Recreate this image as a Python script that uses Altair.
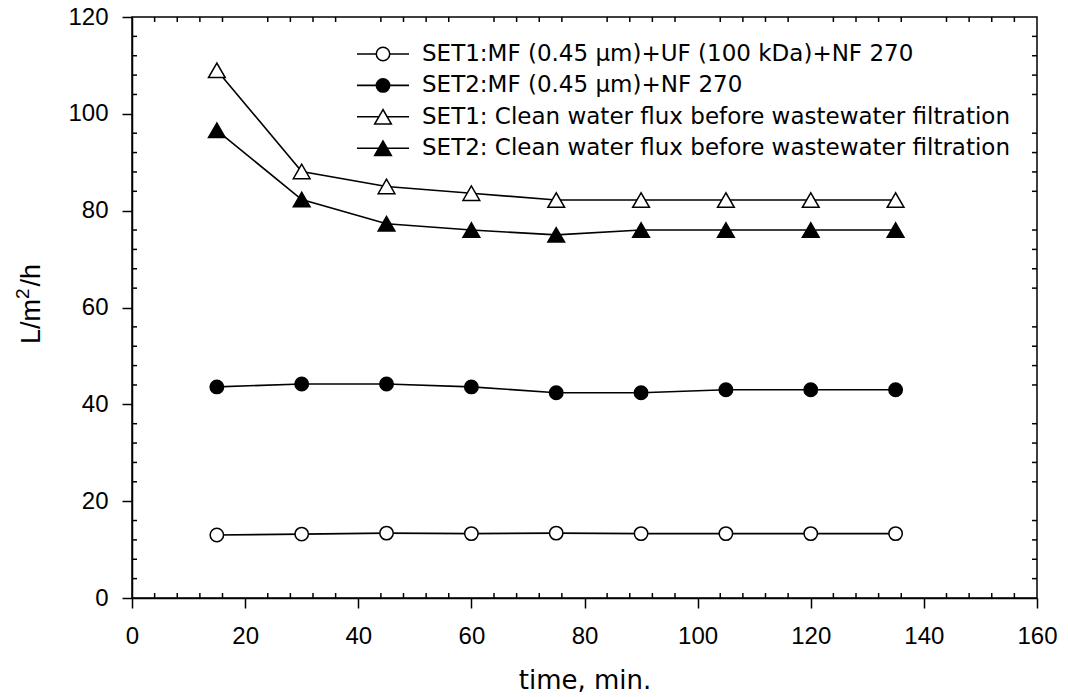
import altair as alt
import pandas as pd

# ---- data ----
times = [15, 30, 45, 60, 75, 90, 105, 120, 135]
set1_mf_uf_nf = [13.0, 13.2, 13.4, 13.3, 13.4, 13.3, 13.3, 13.3, 13.3]
set2_mf_nf = [43.6, 44.2, 44.2, 43.6, 42.4, 42.4, 43.0, 43.0, 43.0]
set1_clean = [109.0, 88.1, 85.0, 83.6, 82.2, 82.2, 82.2, 82.2, 82.2]
set2_clean = [96.6, 82.3, 77.3, 76.0, 75.0, 76.0, 76.0, 76.0, 76.0]

series_labels = [
    "SET1:MF (0.45 µm)+UF (100 kDa)+NF 270",
    "SET2:MF (0.45 µm)+NF 270",
    "SET1: Clean water flux before wastewater filtration",
    "SET2: Clean water flux before wastewater filtration",
]
series_values = [set1_mf_uf_nf, set2_mf_nf, set1_clean, set2_clean]
series_shapes = ["circle", "circle", "triangle-up", "triangle-up"]
series_fills = ["white", "black", "white", "black"]
series_sizes = [180, 180, 280, 280]

x_major = [0, 20, 40, 60, 80, 100, 120, 140, 160]
y_major = [0, 20, 40, 60, 80, 100, 120]
x_minor = [v for v in range(0, 161, 4) if v % 20]
y_minor = [v for v in range(0, 121, 4) if v % 20]

# y-axis title pieces: text, font size, raise (px)
ytitle_parts = [("L/m", 27, 0), ("2", 19, 11), ("/h", 27, 0)]

W, H = 905, 581

rows = []
for lab, vals, sz in zip(series_labels, series_values, series_sizes):
    for t, v in zip(times, vals):
        rows.append({"time": t, "value": v, "series": lab, "msize": sz})
df = pd.DataFrame(rows)

xs = alt.Scale(domain=[0, 160], nice=False, zero=False)
ys = alt.Scale(domain=[0, 120], nice=False, zero=False)

xaxis = alt.Axis(values=x_major, tickSize=10, tickWidth=1.5, tickColor="black",
                 domainColor="black", domainWidth=1.5, grid=False, format="d",
                 labelFont="Liberation Sans", labelFontSize=24, labelColor="black",
                 labelPadding=16, labelFlush=False,
                 title="time, min.", titleFont="DejaVu Sans", titleFontSize=26,
                 titleFontWeight="normal", titleColor="black",
                 titleY=90, titleBaseline="alphabetic")
yaxis = alt.Axis(values=y_major, tickSize=10, tickWidth=1.5, tickColor="black",
                 domainColor="black", domainWidth=1.5, grid=False, format="d",
                 labelFont="Liberation Sans", labelFontSize=24, labelColor="black",
                 labelPadding=14, labelFlush=False, title="")

base = alt.Chart(df)
lines = base.mark_line(color="black", strokeWidth=1.6).encode(
    x=alt.X("time:Q", scale=xs, axis=xaxis),
    y=alt.Y("value:Q", scale=ys, axis=yaxis),
    detail="series:N",
    order="time:Q",
)
points = base.mark_point(filled=True, stroke="black", strokeWidth=1.5, opacity=1).encode(
    x=alt.X("time:Q", scale=xs),
    y=alt.Y("value:Q", scale=ys),
    shape=alt.Shape("series:N", scale=alt.Scale(domain=series_labels, range=series_shapes), legend=None),
    fill=alt.Fill("series:N", scale=alt.Scale(domain=series_labels, range=series_fills), legend=None),
    size=alt.Size("msize:Q", scale=None),
)

# minor ticks (inward)
xm = pd.DataFrame({"time": x_minor})
ym = pd.DataFrame({"value": y_minor})
rule_kw = dict(color="black", strokeWidth=1.5)
bottom_minor = alt.Chart(xm).mark_rule(**rule_kw).encode(
    x=alt.X("time:Q", scale=xs), y=alt.value(H), y2=alt.value(H - 5))
top_minor = alt.Chart(xm).mark_rule(**rule_kw).encode(
    x=alt.X("time:Q", scale=xs), y=alt.value(0), y2=alt.value(5))
left_minor = alt.Chart(ym).mark_rule(**rule_kw).encode(
    y=alt.Y("value:Q", scale=ys), x=alt.value(0), x2=alt.value(5))
right_minor = alt.Chart(ym).mark_rule(**rule_kw).encode(
    y=alt.Y("value:Q", scale=ys), x=alt.value(W), x2=alt.value(W - 5))

# legend (drawn inside the plot)
legend_layers = []
leg_y0, leg_dy = 37, 31.4
for i, (lab, shp, fil, sz) in enumerate(zip(series_labels, series_shapes, series_fills, series_sizes)):
    ld = pd.DataFrame({"label": [lab]})
    yy = leg_y0 + leg_dy * i
    legend_layers.append(alt.Chart(ld).mark_rule(color="black", strokeWidth=1.6).encode(
        x=alt.value(225), x2=alt.value(277), y=alt.value(yy)))
    legend_layers.append(alt.Chart(ld).mark_point(
        shape=shp, filled=True, fill=fil, stroke="black", strokeWidth=1.5, size=sz, opacity=1
    ).encode(x=alt.value(251), y=alt.value(yy)))
    legend_layers.append(alt.Chart(ld).mark_text(
        align="left", baseline="middle", font="DejaVu Sans", fontSize=23, color="black"
    ).encode(x=alt.value(290), y=alt.value(yy), text="label:N"))

# y-axis title with a real superscript, built from text pieces (rotated)
ytitle_layers = []
char_w = {"L": 0.556, "/": 0.278, "m": 0.833, "2": 0.556, "h": 0.556}
total = sum(sum(char_w[c] for c in t) * fs for t, fs, _ in ytitle_parts) + 2
ypos = 287 + total / 2
for t, fs, raise_px in ytitle_parts:
    td = pd.DataFrame({"t": [t]})
    ytitle_layers.append(alt.Chart(td).mark_text(
        align="left", baseline="alphabetic", angle=270, font="Liberation Sans",
        fontSize=fs, color="black"
    ).encode(x=alt.value(-92 - raise_px), y=alt.value(ypos), text="t:N"))
    ypos -= sum(char_w[c] for c in t) * fs + (1 if raise_px else 0) + (1 if t == "2" else 0)

chart = alt.layer(
    lines, points, bottom_minor, top_minor, left_minor, right_minor,
    *legend_layers, *ytitle_layers
).properties(
    width=W, height=H,
    autosize=alt.AutoSizeParams(type="none"),
    padding={"left": 132, "top": 17, "right": 1068 - 132 - W, "bottom": 697 - 17 - H},
).configure(background="white").configure_view(stroke="black", strokeWidth=1.5)

chart.save("out.html", embed_options={"renderer": "svg", "actions": False})
